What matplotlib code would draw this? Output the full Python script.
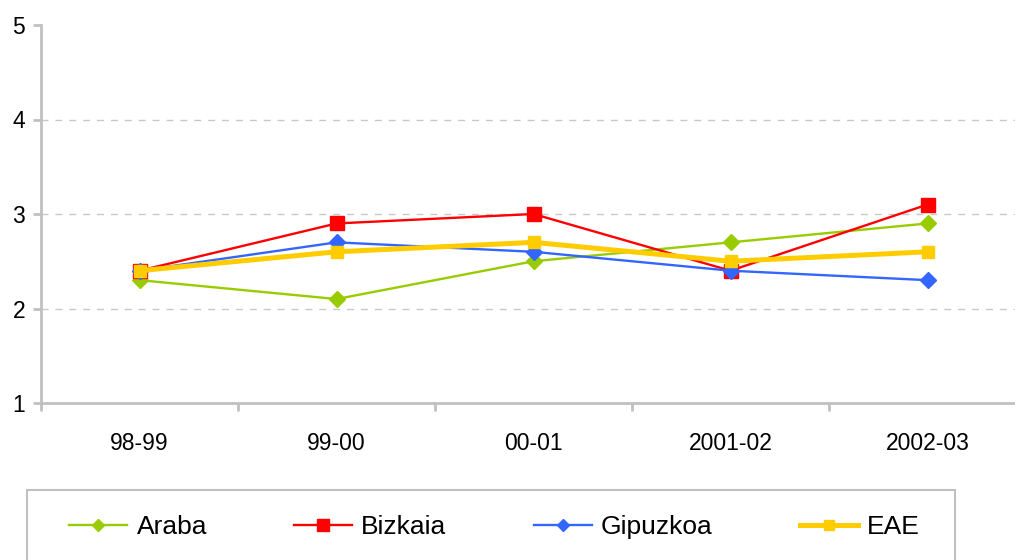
import matplotlib.pyplot as plt
from matplotlib.patches import Rectangle

seasons = ["98-99", "99-00", "00-01", "2001-02", "2002-03"]
araba = [2.3, 2.1, 2.5, 2.7, 2.9]
bizkaia = [2.4, 2.9, 3.0, 2.4, 3.1]
gipuzkoa = [2.4, 2.7, 2.6, 2.4, 2.3]
eae = [2.4, 2.6, 2.7, 2.5, 2.6]

plt.rcParams["font.family"] = ["Liberation Sans", "DejaVu Sans"]

fig = plt.figure(figsize=(10.15, 5.6), dpi=100)
ax = fig.add_axes([41 / 1015, 1 - 403 / 560, 985 / 1015, 378 / 560])

x = range(len(seasons))
ax.plot(x, araba, color="#99cc00", lw=1.7, marker="D", ms=8, label="Araba")
ax.plot(x, bizkaia, color="#ff0000", lw=1.7, marker="s", ms=10, label="Bizkaia")
ax.plot(x, gipuzkoa, color="#3366ff", lw=1.7, marker="D", ms=8, label="Gipuzkoa")
ax.plot(x, eae, color="#ffcc00", lw=3.6, marker="s", ms=9, label="EAE")

ax.set_xlim(-0.5, 4.5)
ax.set_ylim(1, 5)
ax.set_yticks([1, 2, 3, 4, 5])
ax.set_xticks(list(x))
ax.set_xticklabels(seasons)
ax.set_xticks([-0.5, 0.5, 1.5, 2.5, 3.5], minor=True)
ax.tick_params(axis="x", which="major", length=0, pad=21, labelsize=16.5)
ax.tick_params(axis="x", which="minor", length=5.5, width=2, color="#c0c0c0", direction="out")
ax.tick_params(axis="y", length=5.5, width=2, color="#c0c0c0", labelsize=16.5, pad=6)

ax.yaxis.grid(True, linestyle=(0, (5, 5)), color="#c8c8c8", lw=1)
gl = ax.get_ygridlines()
gl[0].set_visible(False)
gl[-1].set_visible(False)
ax.set_axisbelow(True)

for s in ["top", "right"]:
    ax.spines[s].set_visible(False)
for s in ["left", "bottom"]:
    ax.spines[s].set_color("#c0c0c0")
    ax.spines[s].set_linewidth(2)

fig.patches.append(Rectangle((27 / 1015, -0.1), 928 / 1015, 0.1 + 1 - 490 / 560,
                             transform=fig.transFigure, fill=False,
                             edgecolor="#c0c0c0", lw=1.5))
fig.legend(loc="center left", bbox_to_anchor=(56 / 1015, 1 - 527 / 560), ncol=4,
           frameon=False, fontsize=19, handlelength=2.2, handletextpad=0.35,
           columnspacing=3.3, borderpad=0, markerscale=0.8)

fig.savefig("out.png", dpi=100)
